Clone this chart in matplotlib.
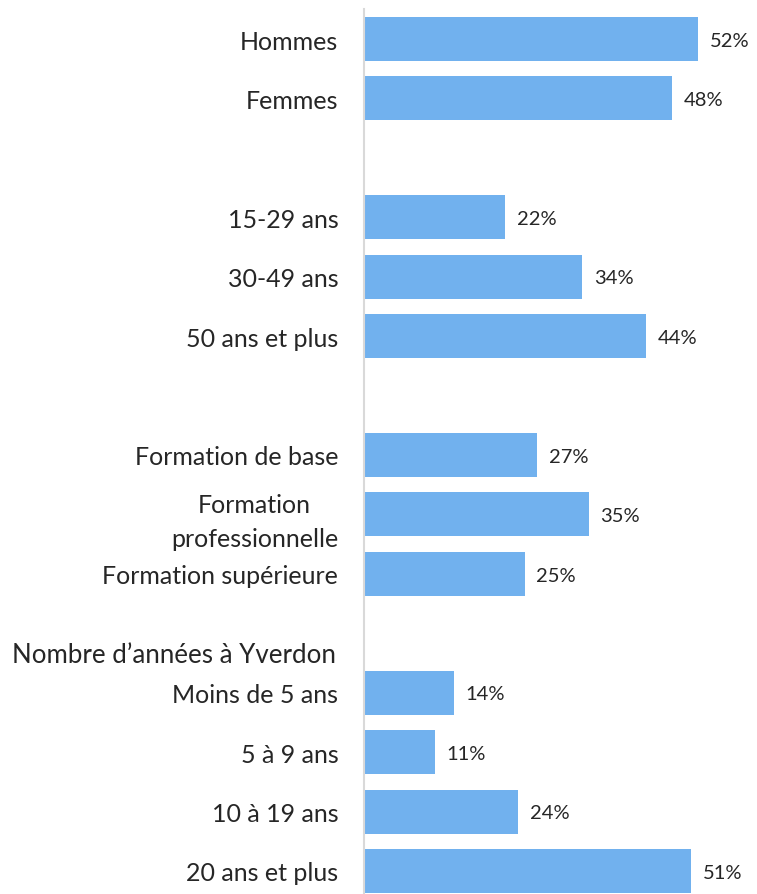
import matplotlib.pyplot as plt
import matplotlib.transforms as mtransforms

plt.rcParams['font.family'] = ['Lato', 'DejaVu Sans']

# catégories (None = ligne vide de séparation)
labels = ["Hommes", "Femmes", None,
          "15-29 ans", "30-49 ans", "50 ans et plus", None,
          "Formation de base", "Formation\nprofessionnelle", "Formation supérieure", None,
          "Moins de 5 ans", "5 à 9 ans", "10 à 19 ans", "20 ans et plus"]
values = [52, 48, None,
          22, 34, 44, None,
          27, 35, 25, None,
          14, 11, 24, 51]
header = "Nombre d’années à Yverdon"

bar_color = "#71B1EE"
text_color = "#262626"

fig = plt.figure(figsize=(7.57, 8.95), dpi=100)
# axe vertical à x=364px, première ligne centrée à y=40px, pas de 59.4px
ax = fig.add_axes([364 / 757, 1 - 901.7 / 895, 1 - 364 / 757, (901.7 - 10.3) / 895])

pos = [i for i, v in enumerate(values) if v is not None]
vals = [values[i] for i in pos]
ax.barh(pos, vals, height=0.74, color=bar_color, edgecolor="none")

for y, v in zip(pos, vals):
    ax.text(v + 1.8, y + 0.02, f"{v}%", va="center", ha="left", fontsize=14.5,
            color=text_color)

ax.set_ylim(len(labels) - 0.5, -0.5)
ax.set_xlim(0, 393 / 6.42)
ax.set_yticks(pos)
ax.set_yticklabels([labels[i] for i in pos], fontsize=18, color=text_color,
                   multialignment="center", linespacing=1.55)
ax.tick_params(axis="y", length=0, pad=18.5)
ax.set_xticks([])

for s in ["top", "right", "bottom"]:
    ax.spines[s].set_visible(False)
ax.spines["left"].set_color("#D9D9D9")
ax.spines["left"].set_linewidth(1.5)

# titre du groupe "années à Yverdon"
trans = mtransforms.blended_transform_factory(fig.transFigure, ax.transData)
ax.text(12 / 757, 10.35, header, transform=trans, ha="left", va="center",
        fontsize=18.6, color=text_color, clip_on=False)

fig.savefig("out.png", dpi=100)
